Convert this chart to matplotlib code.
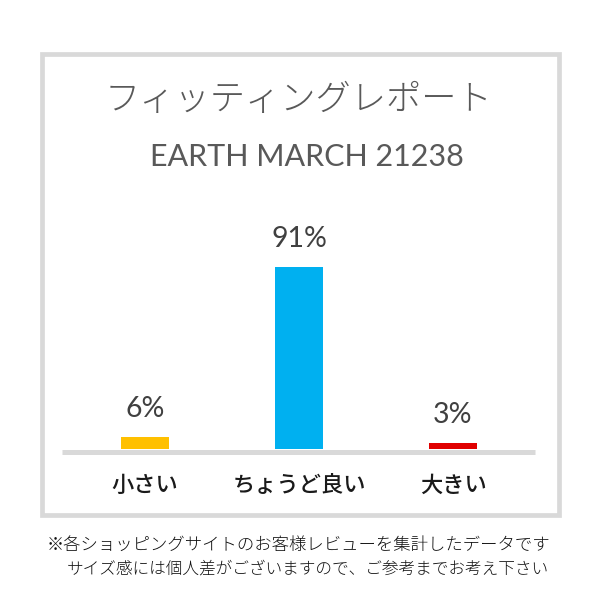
import matplotlib.pyplot as plt
from matplotlib.patches import Rectangle

# Data
categories = ['小さい', 'ちょうど良い', '大きい']
percentages = [6, 91, 3]
bar_colors = ['#FFC000', '#00B0F0', '#E00000']

title = 'フィッティングレポート'
subtitle = 'EARTH MARCH 21238'
notes = ['※各ショッピングサイトのお客様レビューを集計したデータです',
         'サイズ感には個人差がございますので、ご参考までお考え下さい']

plt.rcParams['font.family'] = ['Noto Sans CJK JP', 'DejaVu Sans']

W, H = 600, 600
fig = plt.figure(figsize=(6, 6), dpi=100)
fig.patch.set_facecolor('white')

def fx(px):
    return px / W

def fy(py):
    return 1 - py / H

# Gray frame
frame = Rectangle((fx(41.5), fy(515)), fx(558.5) - fx(41.5), fy(54) - fy(515),
                  transform=fig.transFigure, fill=False, edgecolor='#D9D9D9',
                  linewidth=3.4, zorder=0)
fig.patches.append(frame)

# Bar axes: x=0 at px 145, 154 px per category, y=0 at px 449, 2 px per %
ax = fig.add_axes([fx(62), fy(449), fx(535) - fx(62), 200 / H])
ax.set_xlim((62 - 145) / 154, (535 - 145) / 154)
ax.set_ylim(0, 100)
ax.patch.set_alpha(0)

x = range(len(categories))
ax.bar(x, percentages, width=0.31, color=bar_colors, zorder=2)
ax.axhline(-1.3, color='#D9D9D9', linewidth=3.6, clip_on=False, zorder=1,
           solid_capstyle='butt')

for xi, v in zip(x, percentages):
    ax.annotate(f'{v}%', (xi, v), xytext=(0, 14.4), textcoords='offset points',
                ha='center', va='baseline', fontsize=20.5, color='#404040',
                family=['Lato', 'DejaVu Sans'])

ax.set_xticks(list(x))
ax.set_xticklabels(categories, fontsize=16, color='#1A1A1A', fontweight='medium')
ax.tick_params(axis='x', length=0, pad=18)
ax.set_yticks([])
for s in ax.spines.values():
    s.set_visible(False)

# Titles
fig.text(fx(298), fy(100), title, ha='center', va='center', fontsize=25.4,
         color='#595959', fontweight='light')
fig.text(fx(307), fy(157), subtitle, ha='center', va='center', fontsize=22,
         color='#595959', family=['Lato', 'DejaVu Sans'])

# Footnotes
fig.text(fx(47), fy(545), notes[0], ha='left', va='center', fontsize=12.5,
         color='#111111', fontweight='light')
fig.text(fx(67), fy(569), notes[1], ha='left', va='center', fontsize=12.0,
         color='#111111', fontweight='light')

fig.savefig('out.png', dpi=100, facecolor='white')
